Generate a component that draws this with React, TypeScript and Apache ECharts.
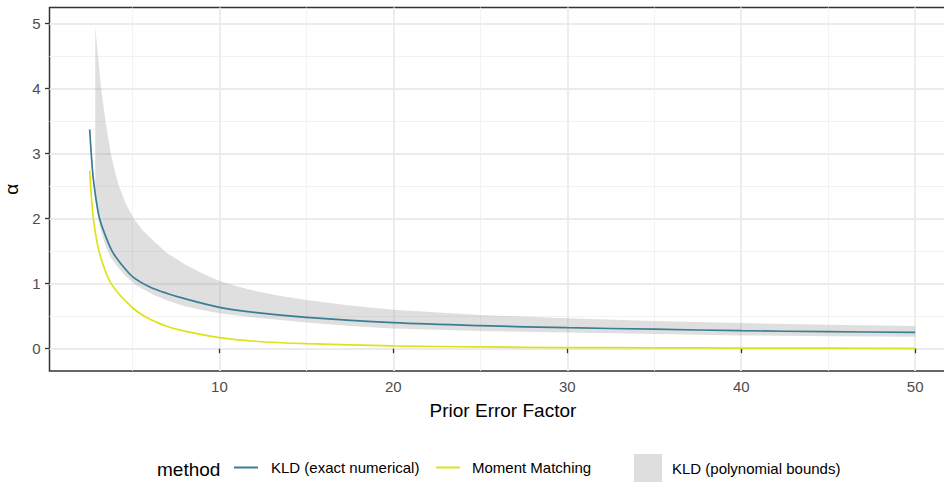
import React, { useEffect, useRef } from "react";
import * as echarts from "echarts";

// KLD (exact numerical)
const kldX = [2.54, 2.6, 2.7, 2.8, 2.95, 3.11, 3.4, 3.83, 4.3, 5, 6, 7, 8, 10, 12, 15, 20, 25, 30, 35, 40, 45, 50];
const kldY = [3.375, 3.12, 2.75, 2.5, 2.22, 2.0, 1.77, 1.5, 1.32, 1.11, 0.95, 0.85, 0.77, 0.637, 0.56, 0.483, 0.4, 0.354, 0.323, 0.3, 0.277, 0.262, 0.252];

// Moment Matching
const mmX = [2.54, 2.62, 2.73, 2.87, 3.06, 3.35, 3.73, 4.2, 4.62, 5, 5.5, 6.04, 6.92, 8, 10, 12, 15, 20, 25, 30, 35, 40, 45, 50];
const mmY = [2.74, 2.4, 2.05, 1.78, 1.52, 1.26, 1.02, 0.85, 0.73, 0.63, 0.53, 0.45, 0.35, 0.27, 0.17, 0.115, 0.077, 0.043, 0.027, 0.018, 0.013, 0.01, 0.008, 0.006];

// KLD (polynomial bounds)
const bandX = [2.86, 3.0, 3.2, 3.45, 3.75, 4.0, 4.2, 4.6, 5.1, 5.6, 6.2, 7, 8, 9, 10, 11, 12, 13.5, 15, 17.5, 20, 25, 30, 35, 40, 45, 50];
const bandHi = [4.95, 4.55, 4.0, 3.5, 3.0, 2.72, 2.52, 2.24, 1.99, 1.82, 1.66, 1.47, 1.3, 1.16, 1.04, 0.96, 0.89, 0.81, 0.75, 0.665, 0.6, 0.518, 0.467, 0.428, 0.395, 0.37, 0.35];
const bandLo = [2.3, 2.05, 1.8, 1.58, 1.4, 1.31, 1.24, 1.12, 1.0, 0.92, 0.83, 0.74, 0.655, 0.595, 0.545, 0.51, 0.48, 0.44, 0.405, 0.35, 0.312, 0.272, 0.25, 0.225, 0.205, 0.192, 0.185];

const xMajor = [10, 20, 30, 40, 50];
const xMinor = [5, 15, 25, 35, 45];
const yMajor = [0, 1, 2, 3, 4, 5];
const yMinor = [0.5, 1.5, 2.5, 3.5, 4.5];

const FONT = "'Liberation Sans', Arial, sans-serif";
const X_MIN = 0.23;
const X_MAX = 52.37;
const Y_MIN = -0.343;
const Y_MAX = 5.25;
const BLUE = "#3A7E94";
const YELLOW = "#DDE318";

export default function App() {
  const ref = useRef<HTMLDivElement>(null);
  useEffect(() => {
    if (!ref.current) return;
    const chart = echarts.init(ref.current, null, { renderer: "svg" });
    const majorX = {
      type: "value",
      min: X_MIN,
      max: X_MAX,
      position: "bottom",
      axisLine: { show: false },
      axisTick: { show: true, customValues: xMajor, length: 4.5, lineStyle: { color: "#333333", width: 1.3 } },
      axisLabel: { show: true, customValues: xMajor, color: "#4D4D4D", fontSize: 15, fontFamily: FONT, margin: 8 },
      splitLine: { show: true, lineStyle: { color: "#EBEBEB", width: 1.8 } },
      name: "Prior Error Factor",
      nameLocation: "middle",
      nameGap: 30,
      nameTextStyle: { fontSize: 19, color: "#000000", fontFamily: FONT },
    };
    const minorX = {
      type: "value",
      min: X_MIN,
      max: X_MAX,
      position: "bottom",
      axisLine: { show: false },
      axisTick: { show: false, customValues: xMinor },
      axisLabel: { show: false, customValues: xMinor },
      splitLine: { show: true, lineStyle: { color: "#F0F0F0", width: 0.9 } },
    };
    const majorY = {
      type: "value",
      min: Y_MIN,
      max: Y_MAX,
      position: "left",
      axisLine: { show: false },
      axisTick: { show: true, customValues: yMajor, length: 4.5, lineStyle: { color: "#333333", width: 1.3 } },
      axisLabel: { show: true, customValues: yMajor, color: "#4D4D4D", fontSize: 15, fontFamily: FONT, margin: 9 },
      splitLine: { show: true, lineStyle: { color: "#EBEBEB", width: 1.8 } },
      name: "α",
      nameLocation: "middle",
      nameGap: 29,
      nameTextStyle: { fontSize: 19, color: "#000000", fontFamily: FONT },
    };
    const minorY = {
      type: "value",
      min: Y_MIN,
      max: Y_MAX,
      position: "left",
      axisLine: { show: false },
      axisTick: { show: false, customValues: yMinor },
      axisLabel: { show: false, customValues: yMinor },
      splitLine: { show: true, lineStyle: { color: "#F0F0F0", width: 0.9 } },
    };

    const option: any = {
      animation: false,
      grid: {
        left: 49.5,
        top: 7.5,
        right: -12.4,
        bottom: 111,
        outerBoundsMode: "none",
        containLabel: false,
        show: true,
        borderColor: "#333333",
        borderWidth: 1.5,
        backgroundColor: "transparent",
      },
      xAxis: [majorX, minorX],
      yAxis: [majorY, minorY],
      legend: [
        {
          left: 234,
          top: 460,
          padding: 0,
          itemWidth: 24,
          itemHeight: 2,
          data: [{ name: "KLD (exact numerical)", icon: "rect", itemStyle: { color: BLUE } }],
          textStyle: { fontSize: 15, color: "#000000", fontFamily: FONT, padding: [0, 0, 0, 8] },
        },
        {
          left: 436,
          top: 460,
          padding: 0,
          itemWidth: 24,
          itemHeight: 2,
          data: [{ name: "Moment Matching", icon: "rect", itemStyle: { color: YELLOW } }],
          textStyle: { fontSize: 15, color: "#000000", fontFamily: FONT, padding: [0, 0, 0, 7] },
        },
        {
          left: 634,
          top: 454,
          padding: 0,
          itemWidth: 28,
          itemHeight: 28,
          data: [{ name: "KLD (polynomial bounds)", icon: "rect", itemStyle: { color: "#DEDEDE", borderWidth: 0 } }],
          textStyle: { fontSize: 15, color: "#000000", fontFamily: FONT, padding: [0, 0, 0, 5] },
        },
      ],
      graphic: [
        {
          type: "text",
          x: 157,
          y: 469,
          style: { text: "method", fontSize: 19, fill: "#000000", fontFamily: FONT, verticalAlign: "middle" },
        },
      ],
      series: [
        {
          name: "KLD (polynomial bounds)",
          type: "custom",
          xAxisIndex: 0,
          yAxisIndex: 0,
          color: "#DEDEDE",
          silent: true,
          z: 1,
          data: bandX.map((x, i) => [x, bandLo[i], bandHi[i]]),
          encode: { x: 0, y: [1, 2] },
          renderItem: (params: any, api: any) => {
            if (params.dataIndex !== 0) return null;
            const pts: number[][] = [];
            for (let i = 0; i < bandX.length; i++) pts.push(api.coord([bandX[i], bandHi[i]]));
            for (let i = bandX.length - 1; i >= 0; i--) pts.push(api.coord([bandX[i], bandLo[i]]));
            return {
              type: "polygon",
              shape: { points: pts },
              style: { fill: "rgba(150,150,150,0.3)", stroke: "none" },
            };
          },
        },
        {
          name: "KLD (exact numerical)",
          type: "line",
          xAxisIndex: 0,
          yAxisIndex: 0,
          symbol: "none",
          smooth: 0.3,
          color: BLUE,
          lineStyle: { color: BLUE, width: 1.7 },
          data: kldX.map((x, i) => [x, kldY[i]]),
          z: 3,
        },
        {
          name: "Moment Matching",
          type: "line",
          xAxisIndex: 0,
          yAxisIndex: 0,
          symbol: "none",
          smooth: 0.3,
          color: YELLOW,
          lineStyle: { color: YELLOW, width: 1.7 },
          data: mmX.map((x, i) => [x, mmY[i]]),
          z: 3,
        },
      ],
    };
    chart.setOption(option);
    return () => chart.dispose();
  }, []);
  return <div ref={ref} style={{ width: 944, height: 482, position: "absolute", left: 0, top: 0 }} />;
}
